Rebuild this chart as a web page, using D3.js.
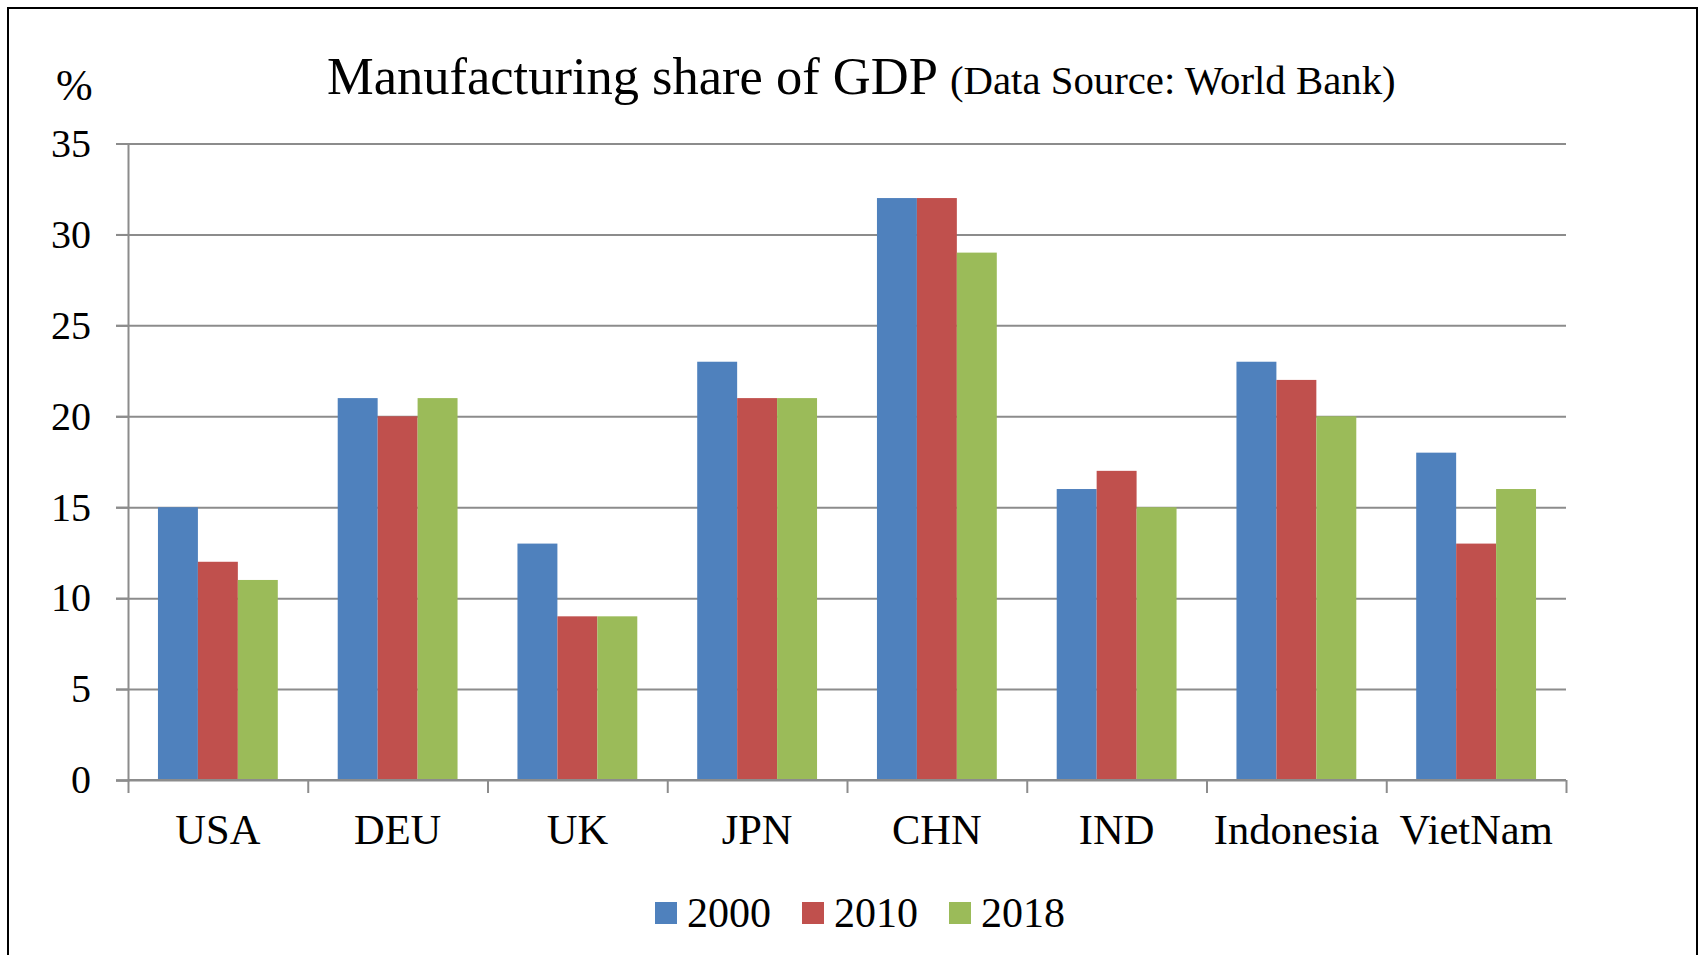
<!DOCTYPE html>
<html>
<head>
<meta charset="utf-8">
<script src="https://cdn.jsdelivr.net/npm/d3@7"></script>
<style>
html,body{margin:0;padding:0;background:#fff;}
svg{display:block;}
text{font-family:"Liberation Serif","Times New Roman",serif;fill:#000;}
</style>
</head>
<body>
<svg id="chart" width="1703" height="955"></svg>
<script>
const categories = ["USA","DEU","UK","JPN","CHN","IND","Indonesia","VietNam"];
const seriesNames = ["2000","2010","2018"];
const values2000 = [15,21,13,23,32,16,23,18];
const values2010 = [12,20,9,21,32,17,22,13];
const values2018 = [11,21,9,21,29,15,20,16];
const yTicks = [0,5,10,15,20,25,30,35];
const colors = ["#4F81BD","#C0504D","#9BBB59"];
const titleMain = "Manufacturing share of GDP";
const titleSub = "(Data Source: World Bank)";
const yUnit = "%";

const seriesValues = [values2000, values2010, values2018];
const svg = d3.select("#chart");
const plotL = 128, plotR = 1566, plotT = 143.5, plotB = 780;

// outer border
svg.append("rect").attr("x",8).attr("y",8).attr("width",1689).attr("height",960)
  .attr("fill","none").attr("stroke","#000").attr("stroke-width",2);

const x0 = d3.scaleBand().domain(categories).range([plotL,plotR]).paddingInner(0).paddingOuter(0);
const x1 = d3.scaleBand().domain(seriesNames).range([0,x0.bandwidth()]).paddingInner(0).paddingOuter(0.75);
const y = d3.scaleLinear().domain([0,35]).range([plotB,plotT]);

// gridlines
const grid = svg.append("g").attr("transform",`translate(${plotL},0)`)
  .call(d3.axisLeft(y).tickValues(yTicks).tickSize(-(plotR-plotL)).tickFormat(""));
grid.select(".domain").remove();
grid.selectAll("line").attr("x1",-12).attr("stroke","#8c8c8c").attr("stroke-width",2);

// bars
const g = svg.append("g");
categories.forEach((c,ci)=>{
  seriesNames.forEach((s,si)=>{
    g.append("rect")
      .attr("x", x0(c)+x1(s))
      .attr("y", y(seriesValues[si][ci]))
      .attr("width", x1.bandwidth())
      .attr("height", y(0)-y(seriesValues[si][ci]))
      .attr("fill", colors[si]);
  });
});

// y axis
const yAxis = svg.append("g").attr("transform",`translate(${plotL},0)`)
  .call(d3.axisLeft(y).tickValues(yTicks).tickSize(12).tickPadding(25));
yAxis.select(".domain").attr("stroke","#8c8c8c").attr("stroke-width",2);
yAxis.selectAll("line").attr("stroke","#8c8c8c").attr("stroke-width",2);
yAxis.selectAll("text").style("font-size","40px").attr("font-family","Liberation Serif").attr("fill","#000");

// x axis: boundary ticks
const xb = d3.scaleLinear().domain([0,categories.length]).range([plotL,plotR]);
const xAxisTicks = svg.append("g").attr("transform",`translate(0,${plotB})`)
  .call(d3.axisBottom(xb).tickValues(d3.range(categories.length+1)).tickSize(13).tickFormat(""));
xAxisTicks.select(".domain").attr("stroke","#8c8c8c").attr("stroke-width",2).attr("d",`M${plotL},0H${plotR}`);
xAxisTicks.selectAll("line").attr("stroke","#8c8c8c").attr("stroke-width",2);

// x labels
const xAxis = svg.append("g").attr("transform",`translate(0,${plotB})`)
  .call(d3.axisBottom(x0).tickSize(0).tickPadding(34));
xAxis.select(".domain").remove();
xAxis.selectAll("text").style("font-size","42.5px").attr("font-family","Liberation Serif").attr("fill","#000");

// title
const title = svg.append("text").attr("x",327).attr("y",94);
title.append("tspan").style("font-size","52.5px").text(titleMain);
title.append("tspan").style("font-size","40.8px").attr("dx",12).text(titleSub);

// unit
svg.append("text").attr("x",56).attr("y",100).style("font-size","44px").text(yUnit);

// legend
const legend = svg.append("g");
const legendX = [655,802,949];
seriesNames.forEach((s,i)=>{
  legend.append("rect").attr("x",legendX[i]).attr("y",902).attr("width",22).attr("height",22).attr("fill",colors[i]);
  legend.append("text").attr("x",legendX[i]+32).attr("y",927).style("font-size","42px").text(s);
});
</script>
</body>
</html>
